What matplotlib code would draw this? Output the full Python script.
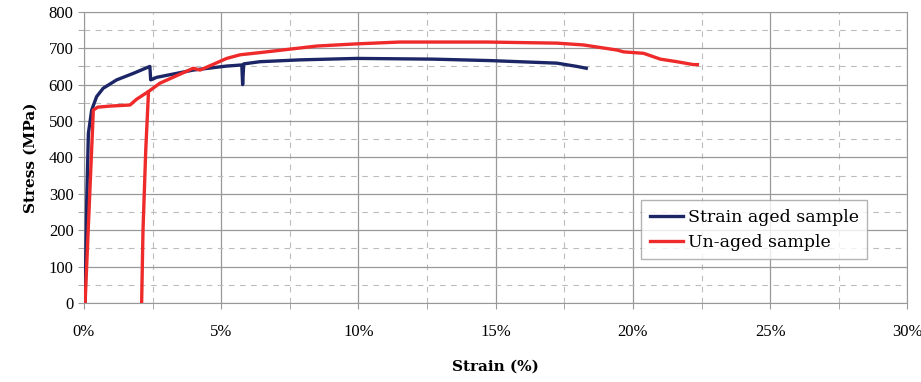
import matplotlib
matplotlib.use('Agg')
import matplotlib.pyplot as plt
from matplotlib.ticker import MultipleLocator, FuncFormatter

# strain in %, stress in MPa
aged_strain = [0.04, 0.1, 0.16, 0.28, 0.46, 0.7, 1.19, 1.8, 2.4, 2.43, 2.65, 3.98, 5.2,
               5.75, 5.78, 5.82, 6.42, 7.87, 9.94, 12.73, 14.8, 17.23, 17.96, 18.3]
aged_stress = [0, 283, 466, 530, 567, 590, 613, 631, 650, 613, 620, 640, 651,
               654, 600, 657, 663, 668, 672, 670, 666, 659, 650, 645]

unaged_strain = [0.04, 0.34, 0.5, 0.95, 1.68, 1.92, 2.35, 2.77, 3.98, 4.23, 5.2, 5.69, 6.42,
                 8.48, 9.94, 11.5, 14.68, 17.23, 18.2, 19.42, 19.66, 20.39, 21.0, 21.6, 22.2, 22.35]
unaged_stress = [0, 530, 538, 541, 544, 560, 581, 604, 645, 640, 672, 682, 688,
                 706, 712, 717, 717, 714, 709, 695, 690, 686, 670, 663, 655, 655]

# reload leg of the un-aged trace
reload_strain = [2.1, 2.15, 2.25, 2.35]
reload_stress = [0, 200, 420, 580]

navy = '#1c2566'
red = '#ee2a2a'

fig = plt.figure(figsize=(9.21, 3.82), dpi=100)
ax = fig.add_axes([0.0912, 0.207, 0.894, 0.762])

ax.plot([s / 100 for s in aged_strain], aged_stress, color=navy, lw=2.4, label='Strain aged sample', zorder=3)
ax.plot([s / 100 for s in unaged_strain], unaged_stress, color=red, lw=2.4, label='Un-aged sample', zorder=3)
ax.plot([s / 100 for s in reload_strain], reload_stress, color=red, lw=2.4, zorder=3)

ax.set_xlim(0, 0.30)
ax.set_ylim(0, 800)
ax.xaxis.set_major_locator(MultipleLocator(0.05))
ax.xaxis.set_minor_locator(MultipleLocator(0.025))
ax.yaxis.set_major_locator(MultipleLocator(100))
ax.yaxis.set_minor_locator(MultipleLocator(50))
ax.xaxis.set_major_formatter(FuncFormatter(lambda v, p: '%d%%' % round(v * 100)))

ax.grid(which='major', color='#999999', lw=0.9, ls='-')
ax.grid(which='minor', color='#bcbcbc', lw=0.8, ls=(0, (5, 5)))
ax.set_axisbelow(True)

for sp in ax.spines.values():
    sp.set_color('#999999')
ax.tick_params(which='both', direction='out', length=4, color='#999999', labelsize=12)
for lab in ax.get_xticklabels() + ax.get_yticklabels():
    lab.set_family('Liberation Serif')
ax.tick_params(axis='x', pad=11)

ax.set_xlabel('Strain (%)', family='DejaVu Serif', fontweight='bold', fontsize=11, labelpad=14)
ax.set_ylabel('Stress (MPa)', family='DejaVu Serif', fontweight='bold', fontsize=11, labelpad=8)

leg = ax.legend(loc='lower right', bbox_to_anchor=(0.962, 0.12), prop={'family': 'DejaVu Serif', 'size': 12.5},
                frameon=True, fancybox=False, handlelength=1.9, handletextpad=0.3, borderpad=0.5,
                labelspacing=0.45)
leg.get_frame().set_edgecolor('#a0a0a0')
leg.get_frame().set_linewidth(1.0)

fig.savefig('out.png', dpi=100)
